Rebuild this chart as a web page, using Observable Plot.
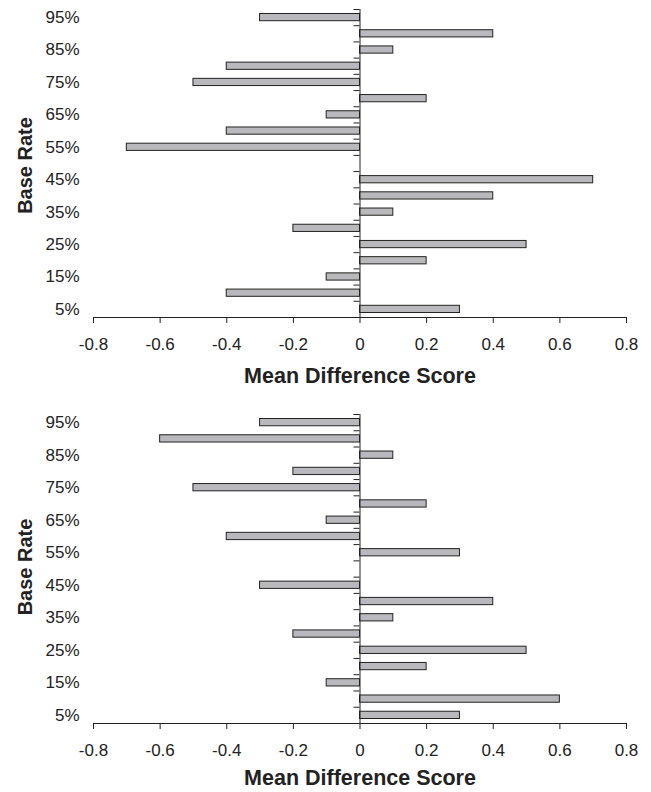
<!DOCTYPE html>
<html>
<head>
<meta charset="utf-8">
<script src="https://cdn.jsdelivr.net/npm/d3@7"></script>
<script src="https://cdn.jsdelivr.net/npm/@observablehq/plot@0.6"></script>
<style>
  html, body { margin: 0; padding: 0; background: #fff; }
  #chart svg { display: block; }
</style>
</head>
<body>
<div id="chart"></div>
<script>
// Base-rate categories (percent), bottom to top
const baseRates = [5, 10, 15, 20, 25, 30, 35, 40, 45, 50, 55, 60, 65, 70, 75, 80, 85, 90, 95];
// Base rates that carry a text label on the axis
const labelRates = [5, 15, 25, 35, 45, 55, 65, 75, 85, 95];
// Horizontal axis ticks
const xTicks = [-0.8, -0.6, -0.4, -0.2, 0, 0.2, 0.4, 0.6, 0.8];
const xDomain = [-0.8, 0.8];

// Mean difference score per base rate (same order as baseRates)
const scoresTop =    [0.3, -0.4, -0.1, 0.2, 0.5, -0.2, 0.1, 0.4, 0.7, 0, -0.7, -0.4, -0.1, 0.2, -0.5, -0.4, 0.1, 0.4, -0.3];
const scoresBottom = [0.3, 0.6, -0.1, 0.2, 0.5, -0.2, 0.1, 0.4, -0.3, 0, 0.3, -0.4, -0.1, 0.2, -0.5, -0.2, 0.1, -0.6, -0.3];

const xTitle = "Mean Difference Score";
const yTitle = "Base Rate";

const ink = "#222";

function panel(scores, {height, marginTop, marginBottom, titleDy, yTitleDy}) {
  const width = 651, marginLeft = 93, marginRight = 25;
  const step = baseRates[1] - baseRates[0];
  const rows = baseRates.map((rate, i) => ({rate, score: scores[i]}));
  // category boundaries, where the small ticks on the zero line sit
  const boundaries = [...baseRates.map(r => r - step / 2), baseRates[baseRates.length - 1] + step / 2];
  // 6px tick length expressed in x units
  const tickLen = 6 * (xDomain[1] - xDomain[0]) / (width - marginLeft - marginRight);

  return Plot.plot({
    width, height, marginTop, marginBottom, marginLeft, marginRight,
    style: {fontFamily: "'Liberation Sans', Arial, sans-serif", background: "#fff", color: ink},
    x: {domain: xDomain, axis: null},
    y: {domain: [boundaries[0], boundaries[boundaries.length - 1]], axis: null},
    marks: [
      Plot.rect(rows, {
        x1: () => 0, x2: "score",
        y1: d => d.rate - step / 2, y2: d => d.rate + step / 2,
        insetTop: 4.5, insetBottom: 4.5,
        fill: "#b9b9bd", stroke: ink, strokeWidth: 1
      }),
      Plot.ruleX([0], {stroke: ink, strokeWidth: 1}),
      Plot.ruleY(boundaries, {y: d => d, x1: () => -tickLen, x2: () => 0, stroke: ink, strokeWidth: 1}),
      Plot.ruleY([boundaries[0]], {stroke: ink, strokeWidth: 1}),
      Plot.axisX(xTicks, {tickSize: 6, tickPadding: 14, tickFormat: d => String(d), fontSize: 17, label: null, stroke: ink}),
      Plot.axisY(labelRates, {tickSize: 0, tickPadding: 14, tickFormat: d => d + "%", fontSize: 17, label: null}),
      Plot.text([xTitle], {text: d => d, frameAnchor: "bottom", lineAnchor: "middle", dy: titleDy, fontSize: 21.5, fontWeight: "bold"}),
      Plot.text([yTitle], {text: d => d, frameAnchor: "left", textAnchor: "middle", lineAnchor: "middle", rotate: -90, dx: -68, dy: yTitleDy, fontSize: 20, fontWeight: "bold"})
    ]
  });
}

const chart = document.getElementById("chart");
chart.append(panel(scoresTop, {height: 396, marginTop: 9, marginBottom: 79, titleDy: 59, yTitleDy: 2}));
chart.append(panel(scoresBottom, {height: 396, marginTop: 18, marginBottom: 69, titleDy: 55, yTitleDy: -2}));
</script>
</body>
</html>
